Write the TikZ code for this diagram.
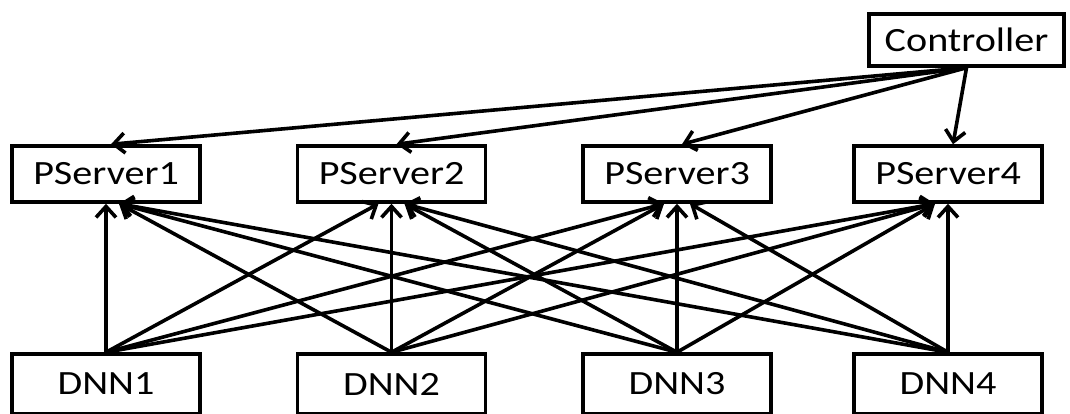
\documentclass[tikz,border=0pt]{standalone}
\usepackage{fontspec}
\setmainfont{Carlito}[FakeStretch=1.18]
\usetikzlibrary{arrows.meta,calc}
\begin{document}
\begin{tikzpicture}[x=1pt,y=-1pt,
  box/.style={draw=black, line width=3.5pt, fill=white, inner sep=0pt,
    font=\fontsize{34}{40}\selectfont},
  pbox/.style={box, minimum width=188pt, minimum height=56pt},
  dbox/.style={box, minimum width=188pt, minimum height=60pt},
  arr/.style={line width=3.6pt, line join=miter,
    -{Straight Barb[length=11pt,width=20pt,line width=3.6pt]}}]
\useasboundingbox (0,0) rectangle (1070,413);
\clip (0,0) rectangle (1070,413);

% controller
\node[box, minimum width=195pt, minimum height=52pt] (C) at (966.5,40) {Controller};

% parameter servers
\node[pbox] (P1) at (106,174)   {PServer1};
\node[pbox] (P2) at (391.5,174) {PServer2};
\node[pbox] (P3) at (677,174)   {PServer3};
\node[pbox] (P4) at (948,174)   {PServer4};

% workers
\node[dbox] (D1) at (106,384)   {DNN1};
\node[dbox] (D2) at (391.5,384) {DNN2};
\node[dbox] (D3) at (677,384)   {DNN3};
\node[dbox] (D4) at (948,384)   {DNN4};

% every worker pushes to every server
\foreach \i in {1,...,4}{
  \foreach \j in {1,...,4}{
    \pgfmathsetmacro\off{13*sign(\i-\j)}
    \draw[arr] (D\i.north) -- ($(P\j.south)+(\off,0)$);
  }
}

% controller to servers
\foreach \j in {1,...,4}{
  \draw[arr] (C.south) -- ($(P\j.north)+(5,0)$);
}
\end{tikzpicture}
\end{document}
